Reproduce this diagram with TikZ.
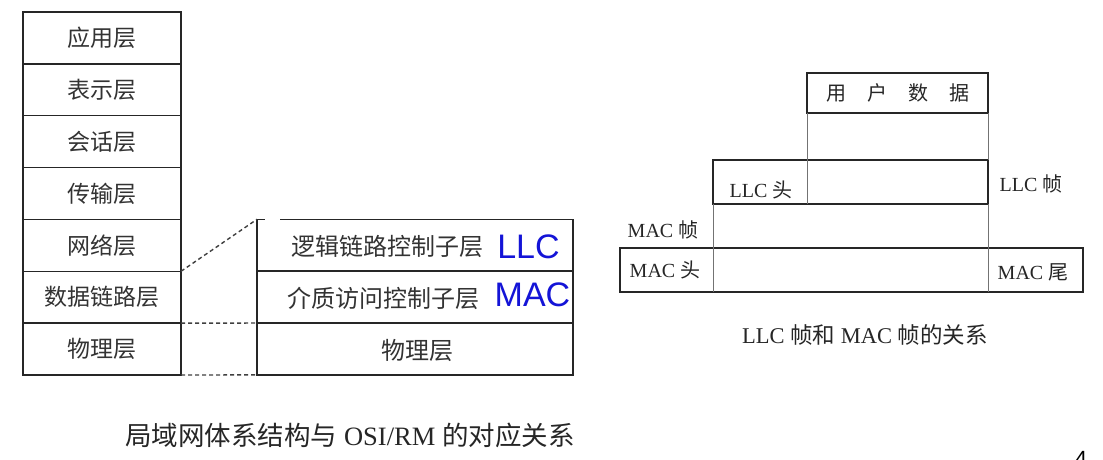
\documentclass[tikz,border=0pt]{standalone}
\usepackage{fontspec}
\setmainfont{Liberation Serif}
\newfontfamily\cjk{Noto Sans CJK SC}
\newfontfamily\arialf{Liberation Sans}
\begin{document}
\begin{tikzpicture}[x=1pt,y=-1pt,
  layer/.style={draw=black!85, line width=1.4pt, outer sep=0pt, minimum width=158pt, minimum height=51.86pt, inner sep=0pt, anchor=north west, font=\cjk\fontsize{23}{23}\selectfont, text=black!80},
  sublayer/.style={draw=black!85, line width=1.4pt, outer sep=0pt, minimum width=316pt, minimum height=51.86pt, inner sep=0pt, anchor=north west},
  cjktxt/.style={inner sep=0pt, font=\cjk\fontsize{24}{24}\selectfont, text=black!80},
  tagtxt/.style={inner sep=0pt, font=\arialf\fontsize{34}{34}\selectfont, text={rgb,255:red,20;green,20;blue,215}},
  labtxt/.style={inner sep=0pt, font=\fontsize{20}{20}\selectfont, text=black!85},
  captxt/.style={inner sep=0pt, text=black!85},
  framebox/.style={draw=black!85, line width=1.4pt, outer sep=0pt, inner sep=0pt, anchor=north west},
  thinline/.style={draw=black!55, line width=0.6pt},
  linkline/.style={draw=black!75, line width=1.4pt, dash pattern=on 4pt off 3pt}
]
\useasboundingbox (0,0) rectangle (1103,459);
\fill[white] (0,0) rectangle (1103,459);

% ---- left: OSI stack ----
\node[layer] (l1) at (23,12) {应用层};
\node[layer] (l2) at (l1.south west) {表示层};
\node[layer] (l3) at (l2.south west) {会话层};
\node[layer] (l4) at (l3.south west) {传输层};
\node[layer] (l5) at (l4.south west) {网络层};
\node[layer] (l6) at (l5.south west) {数据链路层};
\node[layer] (l7) at (l6.south west) {物理层};

% ---- right: LAN stack ----
\node[sublayer] (r1) at (257,219.3) {};
\node[sublayer] (r2) at (r1.south west) {};
\node[sublayer] (r3) at (r2.south west) {};
% small gap in top border as in the scan
\fill[white] (265,217) rectangle (280,221.5);
\node[cjktxt] (t1) at (387,246) {逻辑链路控制子层};
\node[tagtxt] (llc) at (528.5,247) {LLC};
\node[cjktxt] (t2) at (383,298) {介质访问控制子层};
\node[tagtxt] (mac) at (532.5,295) {MAC};
\node[cjktxt] (t3) at (417,350) {物理层};

% ---- dashed correspondences ----
\draw[linkline] (l6.north east) -- (r1.north west);
\draw[linkline] (l7.north east) -- (r3.north west);
\draw[linkline] (l7.south east) -- (r3.south west);

\node[captxt, font=\fontsize{26.5}{26.5}\selectfont] (capL) at (350,435) {{\cjk 局域网体系结构与} OSI/RM {\cjk 的对应关系}};

% ---- right: LLC / MAC frames ----
\node[framebox, minimum width=181pt, minimum height=40pt] (ud) at (807,73) {};
\node[inner sep=0pt, font=\cjk\fontsize{20}{20}\selectfont, text=black!85] (udt) at (898,93) {用\hspace{21pt}户\hspace{21pt}数\hspace{21pt}据};
\node[framebox, minimum width=275pt, minimum height=44pt] (llcf) at (713,160) {};
\node[framebox, minimum width=463pt, minimum height=44pt] (macf) at (620,248) {};

\draw[thinline] (ud.south west) -- (ud.south west |- llcf.south);
\draw[thinline] (ud.south east) -- (llcf.north east);
\draw[thinline] (llcf.south west) -- (llcf.south west |- macf.south);
\draw[thinline] (llcf.south east) -- (llcf.south east |- macf.south);

\node[labtxt] (llch) at (761,190) {LLC {\cjk 头}};
\node[labtxt] (llcz) at (1031,184) {LLC {\cjk 帧}};
\node[labtxt] (macz) at (663,230) {MAC {\cjk 帧}};
\node[labtxt] (mach) at (665,270) {MAC {\cjk 头}};
\node[labtxt] (macw) at (1033,272) {MAC {\cjk 尾}};
\node[captxt, font=\fontsize{22.5}{22.5}\selectfont] (capR) at (865,335) {LLC {\cjk 帧和} MAC {\cjk 帧的关系}};

\node[inner sep=0pt, anchor=north, font=\arialf\fontsize{22}{22}\selectfont] (pg) at (1081,451.5) {4};
\end{tikzpicture}
\end{document}
